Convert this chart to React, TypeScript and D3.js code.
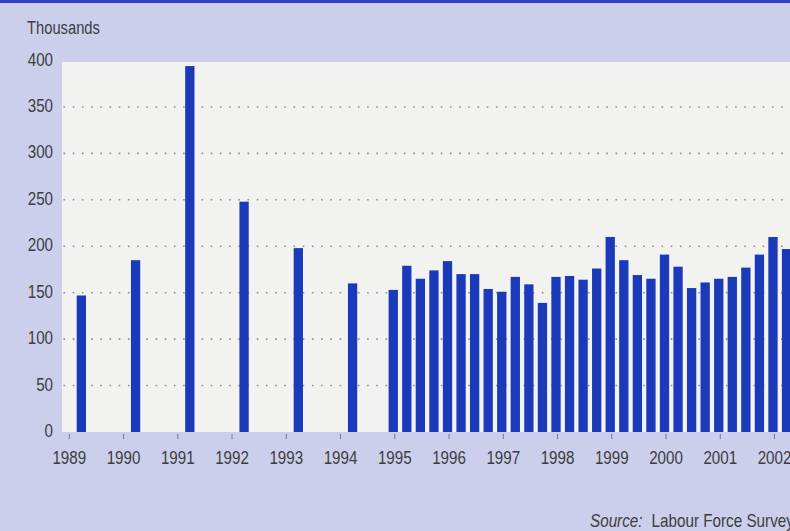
import React from "react";
import * as d3 from "d3";

// Annual figures (thousands), 1989–1994
const annualYears = [1989, 1990, 1991, 1992, 1993, 1994];
const annualValues = [147, 185, 394, 248, 198, 160];

// Quarterly figures (thousands) from 1995 Q1 onwards
const quarterlyStartYear = 1995;
const quarterlyValues = [
  153, 179, 165, 174,
  184, 170, 170, 154,
  151, 167, 159, 139,
  167, 168, 164, 176,
  210, 185, 169, 165,
  191, 178, 155, 161,
  165, 167, 177, 191,
  210, 197,
];

const yearTicks = d3.range(1989, 2003);
const valueTicks = [0, 50, 100, 150, 200, 250, 300, 350, 400];
const gridValues = [50, 100, 150, 200, 250, 300, 350];

const W = 790;
const H = 531;
const FONT = "'Liberation Sans', Arial, sans-serif";
const TEXT = "#3d3d3f";
const BAR = "#1b3aba";
const NARROW = 0.82;

// Condensed text: horizontal squeeze around the anchor point
function Label({
  x,
  y,
  anchor = "start",
  size = 18.5,
  children,
}: {
  x: number;
  y: number;
  anchor?: "start" | "middle" | "end";
  size?: number;
  children: React.ReactNode;
}) {
  return (
    <text
      transform={`translate(${x},${y}) scale(${NARROW},1)`}
      textAnchor={anchor}
      fontFamily={FONT}
      fontSize={size}
      fill={TEXT}
    >
      {children}
    </text>
  );
}

export default function App() {
  const x = d3.scaleLinear().domain([1989, 2002]).range([69.3, 774.5]);
  const y = d3.scaleLinear().domain([0, 400]).range([432, 60.5]);
  const barW = 9.3;

  const annualBars = annualYears.map((yr, i) => ({
    cx: x(yr + 0.222),
    v: annualValues[i],
  }));
  const quarterBars = quarterlyValues.map((v, i) => ({
    cx: x(quarterlyStartYear + i * 0.25 - 0.028),
    v,
  }));
  const bars = [...annualBars, ...quarterBars];

  const plotLeft = 62;
  const plotTop = 62;

  return (
    <svg
      width={W}
      height={H}
      style={{ position: "absolute", left: 0, top: 0, display: "block" }}
    >
      <rect x={0} y={0} width={W} height={H} fill="#cbcfec" />
      <rect x={0} y={0} width={W} height={3} fill="#2b40c2" />

      {/* plot panel */}
      <rect
        x={plotLeft}
        y={plotTop}
        width={W - plotLeft}
        height={y(0) - plotTop}
        fill="#f2f2f1"
      />

      {/* dotted gridlines */}
      {gridValues.map((v) => (
        <line
          key={v}
          x1={plotLeft + 1.5}
          x2={W}
          y1={y(v)}
          y2={y(v)}
          stroke="#8e8e90"
          strokeWidth={1.6}
          strokeDasharray="1.6 7.6"
        />
      ))}

      {/* bars */}
      {bars.map((b, i) => (
        <rect
          key={i}
          x={b.cx - barW / 2}
          y={y(b.v)}
          width={barW}
          height={y(0) - y(b.v)}
          fill={BAR}
        />
      ))}

      {/* x ticks and labels */}
      {yearTicks.map((yr) => (
        <g key={yr}>
          <line
            x1={x(yr)}
            x2={x(yr)}
            y1={y(0) + 2}
            y2={y(0) + 7}
            stroke="#7a7a7c"
            strokeWidth={1}
          />
          <Label x={x(yr)} y={464} anchor="middle">
            {yr}
          </Label>
        </g>
      ))}

      {/* y labels */}
      {valueTicks.map((v) => (
        <Label key={v} x={53} y={y(v) + 5} anchor="end">
          {v}
        </Label>
      ))}

      <Label x={27} y={34} size={18}>
        Thousands
      </Label>

      <Label x={590} y={527} size={18.6}>
        <tspan fontStyle="italic">Source:</tspan>
        <tspan dx={11}>Labour Force Survey</tspan>
      </Label>
    </svg>
  );
}
